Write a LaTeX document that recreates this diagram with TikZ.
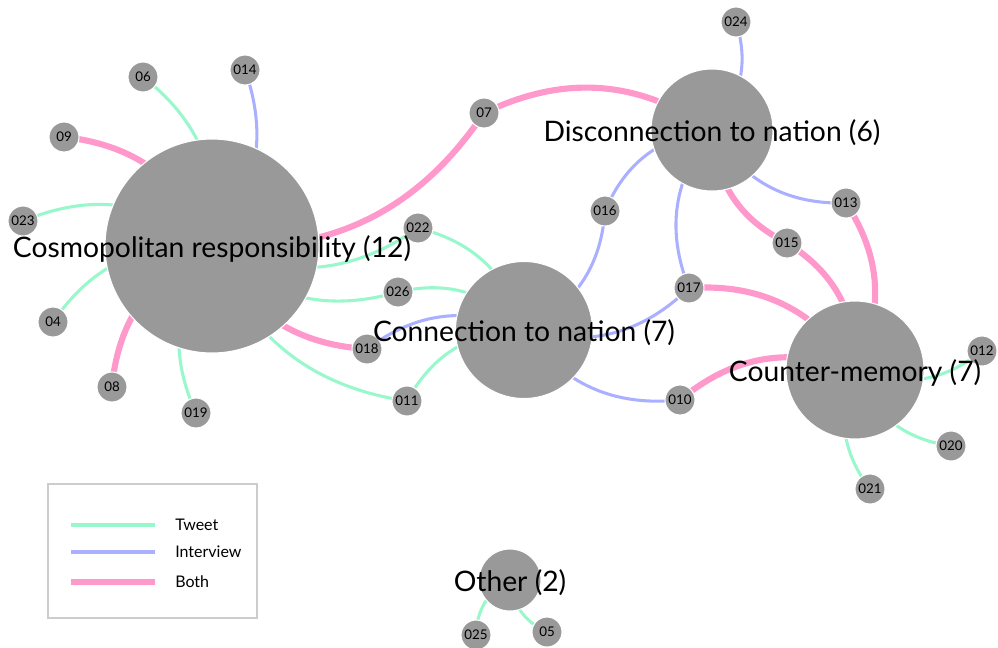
\documentclass[tikz,border=0pt]{standalone}
\usepackage{fontspec}
\setmainfont{Lato}
\usetikzlibrary{backgrounds}
\definecolor{tweetc}{HTML}{99F7CC}
\definecolor{interc}{HTML}{AAB0FF}
\definecolor{bothc}{HTML}{FF99CC}
\definecolor{nodec}{HTML}{999999}
\begin{document}
\begin{tikzpicture}[x=0.75pt,y=-0.75pt,line cap=butt,
theme/.style={circle,fill=nodec,draw=white,line width=0.8pt,inner sep=0pt},
doc/.style={circle,fill=nodec,draw=white,line width=0.8pt,inner sep=0pt,minimum size=22.5pt,font=\fontsize{10}{10}\selectfont},
themelab/.style={font=\fontsize{21.2}{21.2}\selectfont,inner sep=0pt,anchor=base,yshift=-8.25pt},
tweet/.style={draw=tweetc,line width=2.3pt},
interview/.style={draw=interc,line width=2.3pt},
both/.style={draw=bothc,line width=4.6pt},
link/.style={bend left=30}]
\useasboundingbox (0,0) rectangle (998,647);
% themes
\node[theme,minimum size=160.5pt] (cosmo) at (212,246) {};
\node[theme,minimum size=102.75pt] (conn) at (524,330) {};
\node[theme,minimum size=91.5pt] (disc) at (712,130) {};
\node[theme,minimum size=103.5pt] (counter) at (855,370) {};
\node[theme,minimum size=46.5pt] (other) at (510,580) {};
% documents
\node[doc] (d06) at (143,77) {06};
\node[doc] (d014) at (245,70) {014};
\node[doc] (d09) at (64,137) {09};
\node[doc] (d023) at (23,221) {023};
\node[doc] (d04) at (53,322) {04};
\node[doc] (d08) at (112,387) {08};
\node[doc] (d019) at (196,413) {019};
\node[doc] (d07) at (484,113) {07};
\node[doc] (d024) at (736,22) {024};
\node[doc] (d022) at (418,228) {022};
\node[doc] (d016) at (605,211) {016};
\node[doc] (d013) at (846,203) {013};
\node[doc] (d015) at (787,243) {015};
\node[doc] (d026) at (398,292) {026};
\node[doc] (d017) at (689,288) {017};
\node[doc] (d018) at (367,349) {018};
\node[doc] (d011) at (407,401) {011};
\node[doc] (d010) at (680,400) {010};
\node[doc] (d012) at (982,351) {012};
\node[doc] (d020) at (951,446) {020};
\node[doc] (d021) at (870,489) {021};
\node[doc] (d025) at (476,635) {025};
\node[doc] (d05) at (547,632) {05};
% links, centre to centre, hidden under the circles
\begin{pgfonlayer}{background}
\draw[tweet] (d06.center) to[link] (cosmo.center);
\draw[interview] (d014.center) to[link] (cosmo.center);
\draw[both] (d09.center) to[link] (cosmo.center);
\draw[tweet] (d023.center) to[link] (cosmo.center);
\draw[tweet] (d04.center) to[link] (cosmo.center);
\draw[both] (d08.center) to[link] (cosmo.center);
\draw[tweet] (d019.center) to[link] (cosmo.center);
\draw[both] (d07.center) to[link] (cosmo.center);
\draw[both] (d07.center) to[link] (disc.center);
\draw[tweet] (d022.center) to[link] (cosmo.center);
\draw[tweet] (d022.center) to[link] (conn.center);
\draw[tweet] (d026.center) to[link] (cosmo.center);
\draw[tweet] (d026.center) to[link] (conn.center);
\draw[both] (d018.center) to[link] (cosmo.center);
\draw[interview] (d018.center) to[link] (conn.center);
\draw[tweet] (d011.center) to[link] (cosmo.center);
\draw[tweet] (d011.center) to[link] (conn.center);
\draw[interview] (d016.center) to[link] (conn.center);
\draw[interview] (d016.center) to[link] (disc.center);
\draw[interview] (d017.center) to[link] (conn.center);
\draw[interview] (d017.center) to[link] (disc.center);
\draw[both] (d017.center) to[link] (counter.center);
\draw[interview] (d010.center) to[link] (conn.center);
\draw[both] (d010.center) to[link] (counter.center);
\draw[interview] (d024.center) to[link] (disc.center);
\draw[interview] (d013.center) to[link] (disc.center);
\draw[both] (d013.center) to[link] (counter.center);
\draw[both] (d015.center) to[link] (disc.center);
\draw[both] (d015.center) to[link] (counter.center);
\draw[tweet] (d012.center) to[link] (counter.center);
\draw[tweet] (d020.center) to[link] (counter.center);
\draw[tweet] (d021.center) to[link] (counter.center);
\draw[tweet] (d025.center) to[link] (other.center);
\draw[tweet] (d05.center) to[link] (other.center);
\end{pgfonlayer}
% theme labels
\node[themelab] (cosmo-lab) at (cosmo) {Cosmopolitan responsibility (12)};
\node[themelab] (conn-lab) at (conn) {Connection to nation (7)};
\node[themelab] (disc-lab) at (disc) {Disconnection to nation (6)};
\node[themelab] (counter-lab) at (counter) {Counter-memory (7)};
\node[themelab] (other-lab) at (other) {Other (2)};
% legend
\draw[black!20,line width=1.2pt] (48,484) rectangle (257,618);
\draw[tweet] (71,525) -- (155,525);
\draw[interview] (71,552) -- (155,552);
\draw[both,line width=3.8pt] (71,582) -- (155,582);
\node[anchor=west,inner sep=0pt,font=\fontsize{12}{12}\selectfont] (tweet-lab) at (175,525) {Tweet};
\node[anchor=west,inner sep=0pt,font=\fontsize{12}{12}\selectfont] (interview-lab) at (175,552) {Interview};
\node[anchor=west,inner sep=0pt,font=\fontsize{12}{12}\selectfont] (both-lab) at (175,582) {Both};
\end{tikzpicture}
\end{document}
